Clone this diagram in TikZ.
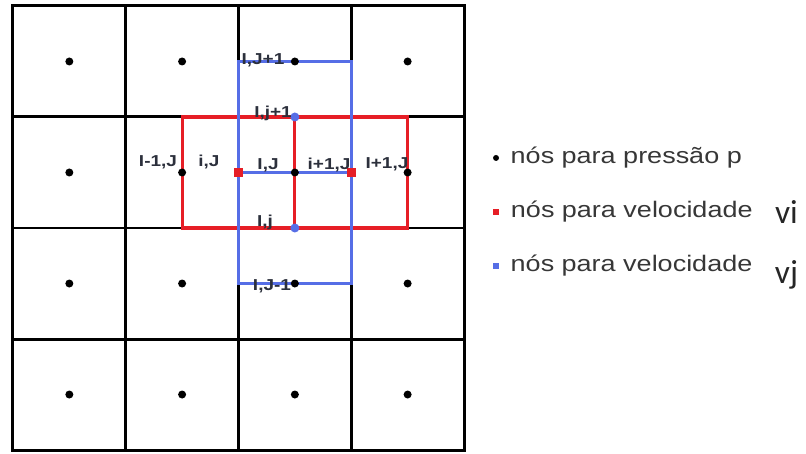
\documentclass[tikz,border=0pt]{standalone}
\usepackage{fontspec}
\setmainfont{Liberation Sans}
\newfontfamily\widefont[FakeStretch=1.2]{Liberation Sans}
\newfontfamily\vfont{Carlito}
\usetikzlibrary{positioning,backgrounds}

\definecolor{viRed}{RGB}{230,30,38}
\definecolor{vjBlue}{RGB}{86,110,230}
\definecolor{lblGray}{RGB}{44,48,60}
\definecolor{legGray}{RGB}{55,55,55}

\tikzset{
  gridline/.style={line width=1.7pt, color=black, line cap=rect},
  redline/.style={line width=1.8pt, color=viRed},
  blueline/.style={line width=1.5pt, color=vjBlue},
  pnode/.style={circle, fill=black, inner sep=0pt, minimum size=1.6mm},
  unode/.style={rectangle, fill=viRed, inner sep=0pt, minimum size=1.8mm},
  vnode/.style={circle, fill=vjBlue, inner sep=0pt, minimum size=1.8mm},
  lbl/.style={font=\widefont\bfseries\fontsize{9}{10}\selectfont, text=lblGray, inner sep=0pt},
  legtxt/.style={font=\widefont\fontsize{12.8}{14}\selectfont, text=legGray, inner sep=0pt},
  vtxt/.style={font=\vfont\fontsize{19}{20}\selectfont, text=black!85, inner sep=0pt}
}

\begin{document}
\begin{tikzpicture}[x=2.255cm, y=2.22cm]
  \useasboundingbox (-0.115,-0.027) rectangle (7.033,4.054);
  %%%%% START %%%%%

  % pressure nodes
  \foreach \c in {0,...,3}
    \foreach \r in {0,...,3}
      \node[pnode] (p\c\r) at (\c+0.5, \r+0.5) {};

  % velocity nodes
  \node[unode] (u1) at (2, 2.5) {};
  \node[unode] (u2) at (3, 2.5) {};
  \node[vnode] (v1) at (2.5, 2) {};
  \node[vnode] (v2) at (2.5, 3) {};

  \begin{scope}[on background layer]
    \foreach \i in {0,...,4} {
      \draw[gridline] (\i, 0) -- (\i, 4);
      \draw[gridline] (0, \i) -- (4, \i);
    }
    \draw[redline] (p12.center |- v1.center) rectangle (p32.center |- v2.center);
    \draw[redline] (v1.center) -- (v2.center);
    \draw[blueline] (u1.center |- p21.center) rectangle (u2.center |- p23.center);
    \draw[blueline] (u1.center) -- (u2.center);
  \end{scope}

  % labels
  \node[lbl] (lIJup) at (2.217, 3.514) {I,J+1};
  \node[lbl] (ljup) at (2.306, 3.036) {I,j+1};
  \node[lbl] (lIm) at (1.286, 2.595) {I-1,J};
  \node[lbl] (lim) at (1.738, 2.595) {i,J};
  \node[lbl] (lIJ) at (2.262, 2.568) {I,J};
  \node[lbl] (lip) at (2.803, 2.568) {i+1,J};
  \node[lbl] (lIp) at (3.317, 2.577) {I+1,J};
  \node[lbl] (lj) at (2.235, 2.054) {I,j};
  \node[lbl] (lIJdn) at (2.297, 1.477) {I,J-1};

  % legend
  \node[pnode, minimum size=1.2mm] (lp) at (4.284, 2.631) {};
  \node[legtxt, right=2.2mm of lp] (lpt) {nós para pressão p};
  \node[unode, minimum size=1.3mm] (lu) at (4.284, 2.144) {};
  \node[legtxt, right=2.2mm of lu] (lut) {nós para velocidade};
  \node[vtxt] (lvi) at (6.86, 2.144) {vi};
  \node[rectangle, fill=vjBlue, inner sep=0pt, minimum size=1.2mm] (lv) at (4.284, 1.658) {};
  \node[legtxt, right=2.2mm of lv] (lvt) {nós para velocidade};
  \node[vtxt] (lvj) at (6.86, 1.58) {vj};

  %%%%% END %%%%%
\end{tikzpicture}
\end{document}
